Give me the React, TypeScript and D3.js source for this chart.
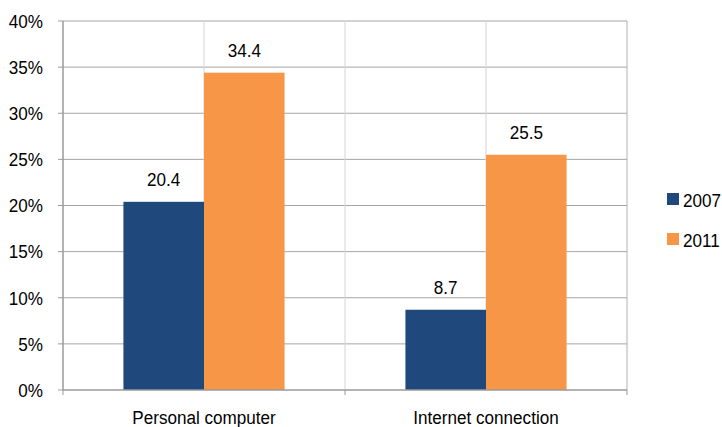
import React from "react";
import * as d3 from "d3";

const categories = ["Personal computer", "Internet connection"];
const seriesNames = ["2007", "2011"];
const values2007 = [20.4, 8.7];
const values2011 = [34.4, 25.5];
const yTicks = [0, 5, 10, 15, 20, 25, 30, 35, 40];

const colors: Record<string, string> = { "2007": "#1F497D", "2011": "#F79646" };

const W = 722;
const H = 427;
const left = 63;
const right = 627;
const top = 21;
const bottom = 390;
const font = "'Liberation Sans', Arial, sans-serif";
const fs = 19;
const narrow = 0.9;

// Text drawn slightly condensed horizontally
function Label(props: { x: number; y: number; anchor?: "start" | "middle" | "end"; children: React.ReactNode }) {
  return (
    <text
      transform={`translate(${props.x},${props.y}) scale(${narrow},1)`}
      textAnchor={props.anchor ?? "start"}
      fontSize={fs}
      fill="#000"
    >
      {props.children}
    </text>
  );
}

export default function App() {
  const x = d3.scaleBand<string>().domain(categories).range([left, right]).padding(0);
  const xs = d3
    .scaleBand<string>()
    .domain(seriesNames)
    .range([0, x.bandwidth()])
    .paddingInner(0)
    .paddingOuter(0.75);
  const y = d3.scaleLinear().domain([0, 40]).range([bottom, top]);

  const seriesValues: Record<string, number[]> = { "2007": values2007, "2011": values2011 };

  // vertical grid at category boundaries and centres
  const vGrid: number[] = [];
  categories.forEach((c) => {
    vGrid.push((x(c) as number) + x.bandwidth() / 2);
    vGrid.push((x(c) as number) + x.bandwidth());
  });

  return (
    <svg
      width={W}
      height={H}
      style={{ position: "absolute", left: 0, top: 0, background: "#fff" }}
      fontFamily={font}
    >
      {/* horizontal grid */}
      {yTicks.slice(1).map((t) => (
        <line key={"h" + t} x1={left} x2={right} y1={y(t)} y2={y(t)} stroke="#A6A6A6" strokeWidth={1} />
      ))}
      {/* vertical grid */}
      {vGrid.map((v, i) => (
        <line
          key={"v" + i}
          x1={v}
          x2={v}
          y1={top}
          y2={bottom}
          stroke={i === vGrid.length - 1 ? "#B0B0B0" : "#D4D4D4"}
          strokeWidth={1}
        />
      ))}

      {/* bars */}
      {seriesNames.map((s) =>
        categories.map((c, i) => {
          const v = seriesValues[s][i];
          const bx = (x(c) as number) + (xs(s) as number);
          return (
            <rect
              key={s + c}
              x={bx}
              y={y(v)}
              width={xs.bandwidth()}
              height={bottom - y(v)}
              fill={colors[s]}
            />
          );
        })
      )}

      {/* value labels */}
      {seriesNames.map((s) =>
        categories.map((c, i) => {
          const v = seriesValues[s][i];
          const cx = (x(c) as number) + (xs(s) as number) + xs.bandwidth() / 2;
          return (
            <Label key={"l" + s + c} x={cx} y={y(v) - 16} anchor="middle">
              {v.toFixed(1)}
            </Label>
          );
        })
      )}

      {/* y axis */}
      <line x1={left} x2={left} y1={top} y2={bottom} stroke="#9A9A9A" strokeWidth={1.5} />
      {yTicks.map((t) => (
        <g key={"yt" + t}>
          <line x1={left - 5} x2={left} y1={y(t)} y2={y(t)} stroke="#9A9A9A" strokeWidth={1} />
          <Label x={43} y={y(t) + 6.8} anchor="end">
            {t}%
          </Label>
        </g>
      ))}

      {/* x axis */}
      <line x1={left} x2={right} y1={bottom} y2={bottom} stroke="#9A9A9A" strokeWidth={1.5} />
      {[left, ...categories.map((c) => (x(c) as number) + x.bandwidth())].map((v, i) => (
        <line key={"xt" + i} x1={v} x2={v} y1={bottom} y2={bottom + 5} stroke="#9A9A9A" strokeWidth={1} />
      ))}
      {categories.map((c) => (
        <Label key={"xl" + c} x={(x(c) as number) + x.bandwidth() / 2} y={423.5} anchor="middle">
          {c}
        </Label>
      ))}

      {/* legend */}
      {seriesNames.map((s, i) => (
        <g key={"lg" + s} transform={`translate(667, ${193 + i * 40})`}>
          <rect x={0} y={0} width={12} height={12} fill={colors[s]} />
          <Label x={16} y={13.5}>
            {s}
          </Label>
        </g>
      ))}
    </svg>
  );
}
